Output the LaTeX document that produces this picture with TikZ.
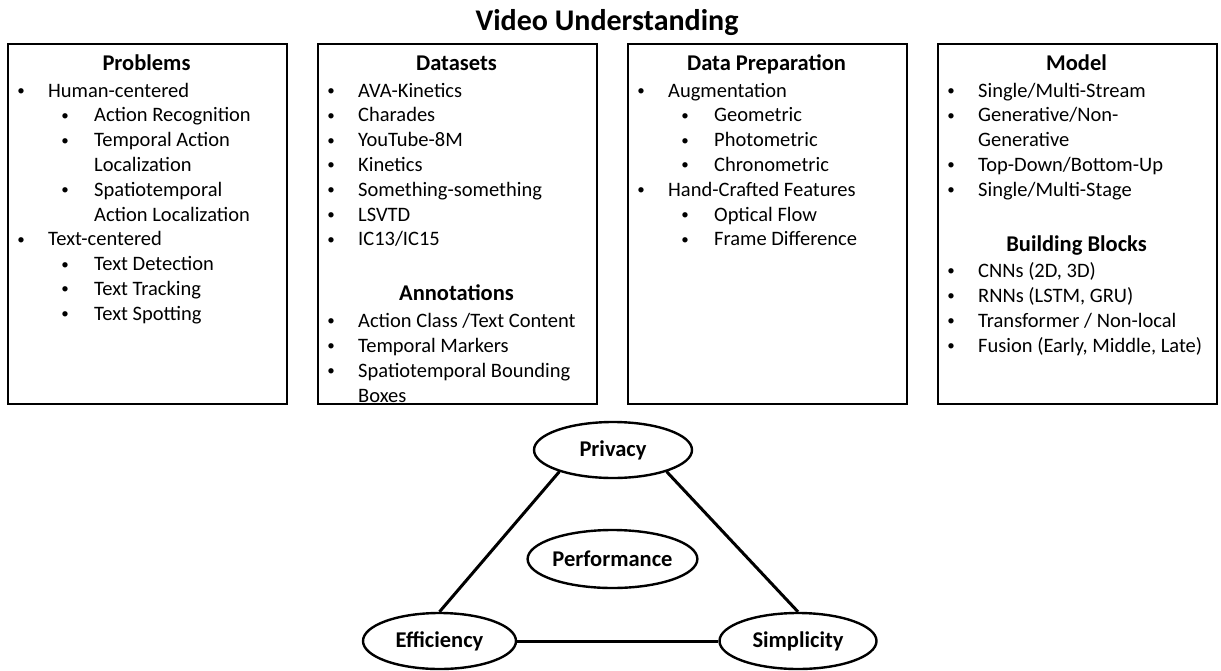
\documentclass[tikz,border=0pt]{standalone}
\usepackage{fontspec}
\setmainfont{Carlito}
\usetikzlibrary{shapes.geometric}
\tikzset{
 panel/.style={draw, line width=2.4pt, minimum width=279pt, minimum height=360pt, inner sep=0pt, anchor=north west},
 hdr/.style={font=\fontsize{22.5}{27}\selectfont\bfseries, anchor=base, inner sep=0pt},
 itm/.style={font=\fontsize{20.5}{25}\selectfont, anchor=base west, inner sep=0pt},
 bul/.style={font=\fontsize{15}{18}\selectfont, anchor=base, inner sep=0pt},
 oval/.style={ellipse, draw, line width=2.4pt, inner sep=0pt, font=\fontsize{22.5}{27}\selectfont\bfseries},
 link/.style={line width=3pt}
}
\newcommand\Lone[4]{\node[bul] (#1b) at (#2+14,#3-1.5) {•}; \node[itm] (#1) at (#2+41,#3) {#4};}
\newcommand\Ltwo[4]{\node[bul] (#1b) at (#2+58,#3-1.5) {•}; \node[itm] (#1) at (#2+87,#3) {#4};}
\newcommand\Lcontone[4]{\node[itm] (#1) at (#2+41,#3) {#4};}
\newcommand\Lconttwo[4]{\node[itm] (#1) at (#2+87,#3) {#4};}
\begin{document}
\begin{tikzpicture}[x=1pt,y=-1pt]
\useasboundingbox (0,0) rectangle (1221,670);
\node[font=\fontsize{30}{36}\selectfont\bfseries, anchor=base, inner sep=0pt] (title) at (607,30) {Video Understanding};

% panels
\node[panel] (b1) at (7,43) {};
\node[panel] (b2) at (317,43) {};
\node[panel] (b3) at (627,43) {};
\node[panel] (b4) at (937,43) {};

% Problems
\node[hdr] (h1) at (146.5,70) {Problems};
\Lone{a1}{7}{97}{Human-centered}
\Ltwo{a2}{7}{121.8}{Action Recognition}
\Ltwo{a3}{7}{146.6}{Temporal Action}
\Lconttwo{a4}{7}{171.4}{Localization}
\Ltwo{a5}{7}{196.2}{Spatiotemporal}
\Lconttwo{a6}{7}{221}{Action Localization}
\Lone{a7}{7}{245.8}{Text-centered}
\Ltwo{a8}{7}{270.6}{Text Detection}
\Ltwo{a9}{7}{295.4}{Text Tracking}
\Ltwo{a10}{7}{320.2}{Text Spotting}

% Datasets
\node[hdr] (h2) at (456.5,70) {Datasets};
\Lone{d1}{317}{97}{AVA-Kinetics}
\Lone{d2}{317}{121.8}{Charades}
\Lone{d3}{317}{146.6}{YouTube-8M}
\Lone{d4}{317}{171.4}{Kinetics}
\Lone{d5}{317}{196.2}{Something-something}
\Lone{d6}{317}{221}{LSVTD}
\Lone{d7}{317}{245.8}{IC13/IC15}
\node[hdr] (h2b) at (456.5,300) {Annotations};
\Lone{n1}{317}{327}{Action Class /Text Content}
\Lone{n2}{317}{352}{Temporal Markers}
\Lone{n3}{317}{377}{Spatiotemporal Bounding}
\Lcontone{n4}{317}{402}{Boxes}

% Data Preparation
\node[hdr] (h3) at (766.5,70) {Data Preparation};
\Lone{c1}{627}{97}{Augmentation}
\Ltwo{c2}{627}{121.8}{Geometric}
\Ltwo{c3}{627}{146.6}{Photometric}
\Ltwo{c4}{627}{171.4}{Chronometric}
\Lone{c5}{627}{196.2}{Hand-Crafted Features}
\Ltwo{c6}{627}{221}{Optical Flow}
\Ltwo{c7}{627}{245.8}{Frame Difference}

% Model
\node[hdr] (h4) at (1076.5,70) {Model};
\Lone{m1}{937}{97}{Single/Multi-Stream}
\Lone{m2}{937}{121.8}{Generative/Non-}
\Lcontone{m3}{937}{146.6}{Generative}
\Lone{m4}{937}{171.4}{Top-Down/Bottom-Up}
\Lone{m5}{937}{196.2}{Single/Multi-Stage}
\node[hdr] (h4b) at (1076.5,251) {Building Blocks};
\Lone{k1}{937}{277}{CNNs (2D, 3D)}
\Lone{k2}{937}{302}{RNNs (LSTM, GRU)}
\Lone{k3}{937}{327}{Transformer / Non-local}
\Lone{k4}{937}{352}{Fusion (Early, Middle, Late)}

% triangle
\node[oval, minimum width=158pt, minimum height=56pt] (priv) at (613,450) {Privacy};
\node[oval, minimum width=156pt, minimum height=58pt] (perf) at (612.5,559) {Performance};
\node[oval, minimum width=153pt, minimum height=56pt] (eff) at (439.5,641) {Efficiency};
\node[oval, minimum width=157pt, minimum height=56pt] (simp) at (798,641) {Simplicity};
\draw[link] (priv.202) -- (eff.north);
\draw[link] (priv.-22) -- (simp.north);
\draw[link] (eff) -- (simp);
\end{tikzpicture}
\end{document}
